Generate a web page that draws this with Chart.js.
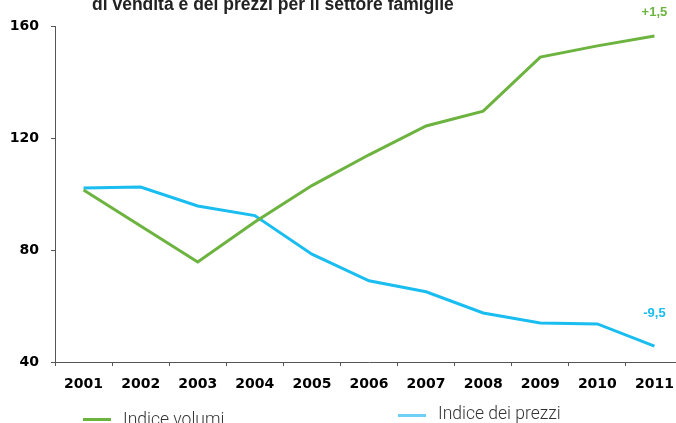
<!DOCTYPE html>
<html>
<head>
<meta charset="utf-8">
<script src="https://cdn.jsdelivr.net/npm/chart.js@4.4.1/dist/chart.umd.min.js"></script>
<style>
    html, body { margin: 0; padding: 0; background: #fff; }
    #wrap { position: relative; width: 676px; height: 423px; overflow: hidden; }
    #grafico { position: absolute; left: 0; top: 0; }
    #titolo {
        position: absolute; left: 92px; top: -5px; white-space: nowrap;
        font: bold 17.5px "Liberation Sans", Arial, sans-serif; line-height: 18px; color: #222;
    }
    .voce { position: absolute; white-space: nowrap; font: 300 17.5px Roboto, sans-serif; line-height: 18px; color: #333; }
    .voce i { position: absolute; width: 28px; height: 3px; }
</style>
</head>
<body>
<div id="wrap">
    <canvas id="grafico" width="690" height="423"></canvas>
    <div id="titolo">di vendita e dei prezzi per il settore famiglie</div>
    <div class="voce" style="left:83px; top:410px;"><i style="background:#6cb33f; top:8px;"></i><span style="margin-left:40px;">Indice volumi</span></div>
    <div class="voce" style="left:398px; top:404px;"><i style="background:#6fd0f6; top:10px;"></i><span style="margin-left:40px;">Indice dei prezzi</span></div>
</div>
<script>
const anni = ['2001', '2002', '2003', '2004', '2005', '2006', '2007', '2008', '2009', '2010', '2011'];
const indiceVolumi = [101.4, 88.6, 75.7, 90.0, 103.0, 114.0, 124.3, 129.6, 148.9, 152.9, 156.4];
const indicePrezzi = [102.1, 102.5, 95.7, 92.3, 78.5, 69.0, 65.1, 57.5, 53.9, 53.6, 45.7];
const variazioniFinali = ['+1,5', '-9,5'];
const tickY = [40, 80, 120, 160];

const VERDE = '#6cb33f';
const BLU = '#19bdf0';

// etichetta con la variazione sopra l'ultimo punto di ogni serie
const etichetteFinali = {
    id: 'etichetteFinali',
    afterDatasetsDraw(chart) {
        const ctx = chart.ctx;
        const scostamenti = [-24, -33];
        ctx.save();
        ctx.font = 'bold 13px "Liberation Sans", Arial, sans-serif';
        ctx.textAlign = 'center';
        ctx.textBaseline = 'middle';
        chart.data.datasets.forEach((ds, i) => {
            const punti = chart.getDatasetMeta(i).data;
            const ultimo = punti[punti.length - 1];
            ctx.fillStyle = ds.borderColor;
            ctx.fillText(variazioniFinali[i], ultimo.x, ultimo.y + scostamenti[i]);
        });
        ctx.restore();
    }
};

const fontAssi = { family: '"DejaVu Sans", Verdana, sans-serif', size: 14, weight: 'bold' };

new Chart(document.getElementById('grafico'), {
    type: 'line',
    data: {
        labels: anni,
        datasets: [
            { label: 'Indice volumi', data: indiceVolumi, borderColor: VERDE, borderWidth: 3, pointRadius: 0, tension: 0 },
            { label: 'Indice dei prezzi', data: indicePrezzi, borderColor: BLU, borderWidth: 3, pointRadius: 0, tension: 0 }
        ]
    },
    options: {
        responsive: false,
        animation: false,
        layout: { padding: { top: 26, right: 7, left: 0, bottom: 0 } },
        plugins: { legend: { display: false }, tooltip: { enabled: false } },
        scales: {
            x: {
                offset: true,
                grid: { offset: true, drawOnChartArea: false, tickLength: 4, tickColor: '#555' },
                border: { color: '#555', width: 1 },
                ticks: { color: '#000', font: fontAssi, padding: 10, maxRotation: 0, autoSkip: false },
                afterFit(scale) { scale.height = 61; }
            },
            y: {
                min: 40,
                max: 160,
                afterBuildTicks(scale) { scale.ticks = tickY.map(v => ({ value: v })); },
                grid: { drawOnChartArea: false, tickLength: 4, tickColor: '#555' },
                border: { color: '#555', width: 1 },
                ticks: { color: '#000', font: fontAssi, padding: 12 },
                afterFit(scale) { scale.width = 55; }
            }
        }
    },
    plugins: [etichetteFinali]
});
</script>
</body>
</html>
